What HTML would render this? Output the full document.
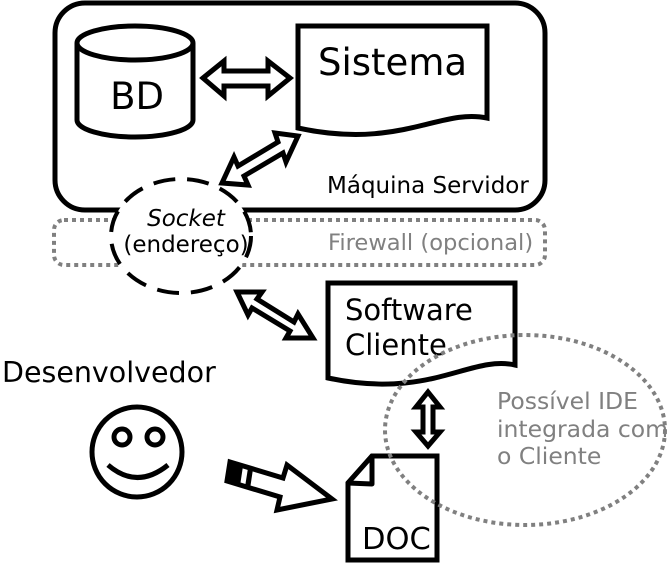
<!DOCTYPE html>
<html><head><style>body{margin:0;background:#fff}svg{display:block}text{font-family:"DejaVu Sans","Liberation Sans",sans-serif}</style></head>
<body>
<svg width="670" height="565" viewBox="0 0 670 565" xmlns="http://www.w3.org/2000/svg">
<rect x="55" y="3" width="490" height="207" rx="30" fill="#fff" stroke="#000" stroke-width="5"/>
<rect x="54" y="220" width="491" height="45" rx="10" fill="none" stroke="#808080" stroke-width="4" stroke-dasharray="4,4"/>
<ellipse cx="181" cy="236" rx="70" ry="57" fill="#fff" stroke="#000" stroke-width="4" stroke-dasharray="22,12"/>
<text x="186" y="226" font-size="23" font-style="italic" text-anchor="middle">Socket</text>
<text x="186" y="252" font-size="23" text-anchor="middle">(endereço)</text>
<path d="M77,43 A58,17 0 0 1 193,43 L193,120 A58,17 0 0 1 77,120 Z" fill="#fff" stroke="#000" stroke-width="5"/>
<path d="M77,43 A58,17 0 0 0 193,43" fill="none" stroke="#000" stroke-width="5"/>
<text x="137" y="109" font-size="37" text-anchor="middle">BD</text>
<path d="M203,78 L224,61 L224,71 L268,71 L268,61 L290,78 L268,96 L268,86 L224,86 L224,96 Z" fill="#fff" stroke="#000" stroke-width="5"/>
<path d="M298,26 L487,26 L487,118 C440,108 400,150 298,128 Z" fill="#fff" stroke="#000" stroke-width="5"/>
<text x="318" y="75" font-size="37">Sistema</text>
<path d="M222,183 L234,157 L238,166 L278,142 L275,133 L298,136 L286,162 L283,153 L244,176 L248,185 Z" fill="#fff" stroke="#000" stroke-width="5"/>
<text x="327" y="193" font-size="23">Máquina Servidor</text>
<text x="328" y="250" font-size="22.6" fill="#808080">Firewall (opcional)</text>
<path d="M237,292 L262,292 L257,299 L294,322 L298,314 L313,338 L286,338 L290,331 L252,308 L248,315 Z" fill="#fff" stroke="#000" stroke-width="5"/>
<path d="M328,283 L515,283 L515,365 C470,355 430,400 328,378 Z" fill="#fff" stroke="#000" stroke-width="5"/>
<text x="345" y="320" font-size="29">Software</text>
<text x="345" y="355" font-size="29">Cliente</text>
<text x="2" y="382" font-size="28.5">Desenvolvedor</text>
<circle cx="137" cy="452" r="45" fill="#fff" stroke="#000" stroke-width="5"/>
<circle cx="122" cy="437" r="8" fill="#fff" stroke="#000" stroke-width="5"/>
<circle cx="155" cy="437" r="8" fill="#fff" stroke="#000" stroke-width="5"/>
<path d="M108,465 Q137,490 168,465" fill="none" stroke="#000" stroke-width="5"/>
<path d="M230,462 L283,478 L287,465 L332,499 L277,510 L280,497 L227,481 Z" fill="#fff" stroke="#000" stroke-width="5"/>
<path d="M230,462 L243,466 L240,486 L227,481 Z" fill="#000"/>
<path d="M248,468 L253,469 L250,489 L245,487 Z" fill="#000"/>
<path d="M372,456 L437,456 L437,560 L348,560 L348,483 Z" fill="#fff" stroke="#000" stroke-width="5"/>
<path d="M348,483 L372,456 L372,484 Z" fill="#fff" stroke="#000" stroke-width="5" stroke-linejoin="round"/>
<text x="362" y="549" font-size="30.5">DOC</text>
<path d="M428,392 L440,407 L433,407 L433,432 L440,432 L428,446 L416,432 L423,432 L423,407 L416,407 Z" fill="#fff" stroke="#000" stroke-width="5"/>
<ellipse cx="525" cy="430" rx="140" ry="95" fill="none" stroke="#808080" stroke-width="4" stroke-dasharray="4,4"/>
<text x="497" y="409" font-size="23.5" fill="#808080">Possível IDE</text>
<text x="497" y="437" font-size="23.5" fill="#808080">integrada com</text>
<text x="497" y="464" font-size="23.5" fill="#808080">o Cliente</text>
</svg>
</body></html>
